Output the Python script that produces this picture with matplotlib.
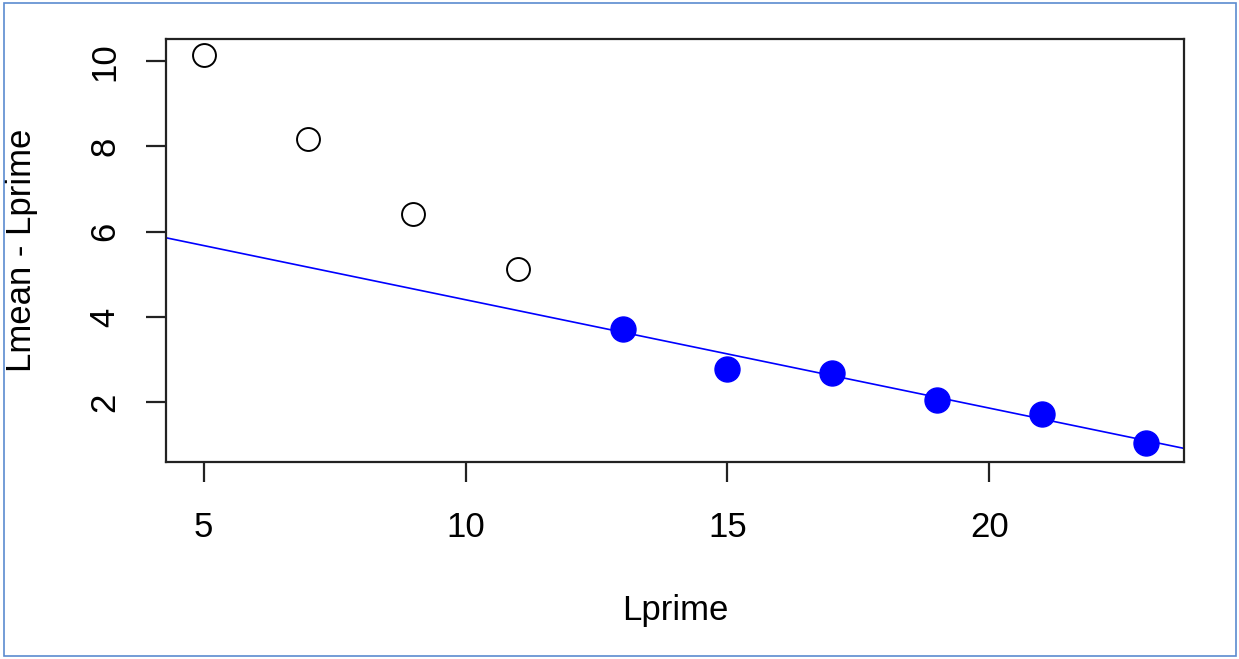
import numpy as np
import matplotlib
matplotlib.use("Agg")
import matplotlib.pyplot as plt
from matplotlib.patches import Rectangle

plt.rcParams['font.family'] = ['Liberation Sans', 'DejaVu Sans']

# data
lprime_open = [5, 7, 9, 11]
diff_open = [10.15, 8.17, 6.41, 5.12]
lprime_fill = [13, 15, 17, 19, 21, 23]
diff_fill = [3.73, 2.78, 2.70, 2.05, 1.74, 1.05]
# abline coefficients
fit_intercept = 6.947
fit_slope = -0.254

x_ticks = [5, 10, 15, 20]
y_ticks = [2, 4, 6, 8, 10]

fig = plt.figure(figsize=(12.39, 6.59), dpi=100)
ax = fig.add_axes([166/1239, 1 - 461.7/659, (1184-166)/1239, (461.7-39)/659])

ax.plot(lprime_open, diff_open, 'o', ms=16.5, mfc='white', mec='black', mew=1.4, ls='none')
ax.plot(lprime_fill, diff_fill, 'o', ms=18, mfc='blue', mec='blue', mew=1, ls='none')

xlim = (4.28, 23.72)
ylim = (0.61, 10.52)
xx = np.array(xlim)
ax.plot(xx, fit_intercept + fit_slope*xx, color='blue', lw=1.2)

ax.set_xlim(xlim)
ax.set_ylim(ylim)
ax.set_xticks(x_ticks)
ax.set_yticks(y_ticks)
ax.set_xticklabels([str(v) for v in x_ticks])
ax.set_yticklabels([str(v) for v in y_ticks], rotation=90, va='center')

for s in ax.spines.values():
    s.set_linewidth(1.6)
    s.set_color('#222222')
ax.tick_params(length=14.4, width=1.6, color='#222222', labelsize=25, pad=18)
ax.tick_params(axis='x', pad=21)

ax.set_xlabel('Lprime', fontsize=25)
ax.set_ylabel('Lmean - Lprime', fontsize=25)
ax.xaxis.set_label_coords(0.5, -0.352)
ax.xaxis.label.set_va('center')
ax.yaxis.set_label_coords(-0.1415, 0.5)
ax.yaxis.label.set_va('center')

# blue screenshot frame
fig.patches.append(Rectangle((4/1239, 3/659), 1232/1239, 653/659, transform=fig.transFigure,
                             fill=False, ec='#5B8BD0', lw=1.2))

fig.savefig('out.png', dpi=100)
